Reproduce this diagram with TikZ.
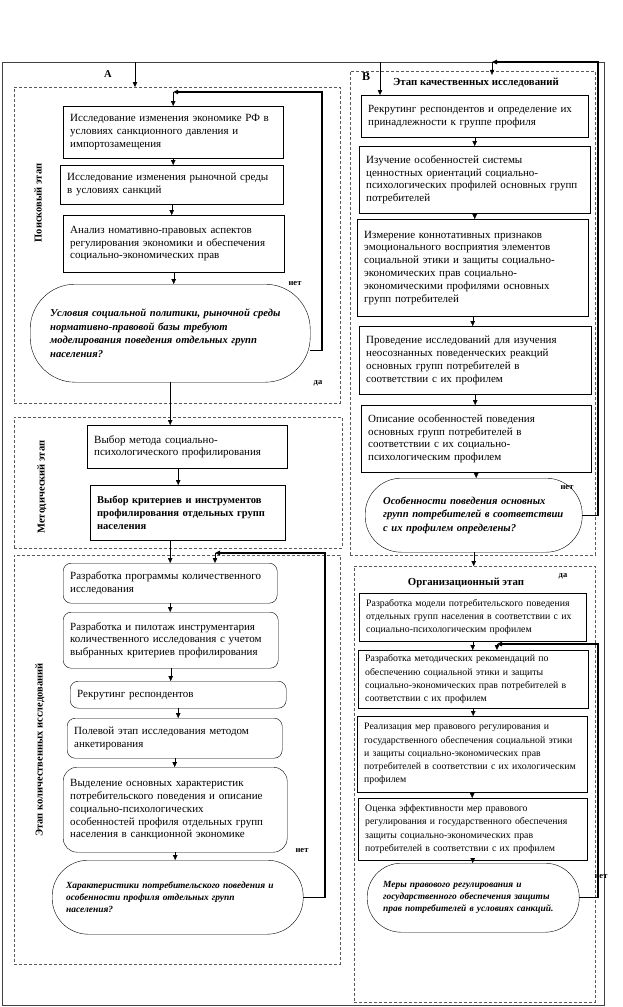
\documentclass[tikz,border=0pt]{standalone}
\usepackage{fontspec}
\setmainfont{Liberation Serif}
\usetikzlibrary{arrows.meta}
\newcommand\boxfont{\fontsize{11}{12.8}\selectfont}
\newcommand\orgfont{\fontsize{9.8}{13.3}\selectfont}
\newcommand\decfont{\bfseries\itshape\fontsize{10.6}{13.6}\selectfont}
\newcommand\decsmall{\bfseries\itshape\fontsize{9.4}{12}\selectfont}
\newcommand\labfont{\bfseries\fontsize{10.5}{12}\selectfont}
\newcommand\ynfont{\bfseries\fontsize{8.5}{10}\selectfont}

\begin{document}
\begin{tikzpicture}[x=1pt, y=-1pt, every node/.style={font=\boxfont},
  box/.style={draw, anchor=north west, align=left, inner xsep=7pt, inner ysep=2pt},
  rbox/.style={box, rounded corners=8pt},
  decision/.style={draw, anchor=north west, align=left, font=\decfont, inner ysep=2pt},
  stage/.style={draw=gray!70!black, dash pattern=on 3pt off 2pt, anchor=north west, inner sep=0pt},
  frame/.style={draw=gray!50!black, line width=0.8pt, anchor=north west, inner sep=0pt},
  arr/.style={-{Triangle[length=5pt, width=4.5pt]}},
  loopline/.style={line width=1.3pt},
  lab/.style={font=\labfont},
  yn/.style={font=\ynfont}]
\useasboundingbox (0,0) rectangle (623,1007);
\node[frame, minimum width=602pt, minimum height=943pt] (frame) at (2,62) {};

% left column
\node[stage, minimum width=326pt, minimum height=316pt] (s1) at (14,87) {};
\node[stage, minimum width=328pt, minimum height=131pt] (s2) at (14,417) {};
\node[stage, minimum width=326pt, minimum height=409pt] (s3) at (14,555) {};
\node[lab] (la) at (108,74) {А};
\node[lab, rotate=90] (l1) at (38,203) {Поисковый этап};
\node[lab, rotate=90] (l2) at (42,487) {Методический этап};
\node[lab, rotate=90] (l3) at (40,750) {Этап количественных исследований};

\node[box, text width=206pt, minimum height=52pt] (b1) at (63,106) {Исследование изменения экономике РФ в\\условиях санкционного давления и\\импортозамещения};
\node[box, text width=209pt, minimum height=39pt] (b2) at (60,165) {Исследование изменения рыночной среды\\в условиях санкций};
\node[box, text width=207pt, minimum height=57pt] (b3) at (63,215) {Анализ номативно-правовых аспектов\\регулирования экономики и обеспечения\\социально-экономических прав};
\node[decision, rounded corners=45pt, inner xsep=20pt, text width=240pt, minimum height=98pt] (d1) at (30,284) {Условия социальной политики, рыночной среды\\нормативно-правовой базы требуют\\моделирования поведения отдельных групп\\населения?};
\node[yn] (no1) at (295,284) {нет};
\node[yn] (yes1) at (318,383) {да};

\node[box, text width=186pt, minimum height=43pt] (m1) at (87,425) {Выбор метода социально-\\психологического профилирования};
\node[box, text width=181pt, minimum height=55pt, font=\fontsize{10.5}{12.8}\selectfont\bfseries] (m2) at (90,485) {Выбор критериев и инструментов\\профилирования отдельных групп\\населения};

\node[rbox, text width=200pt, minimum height=40pt] (q1) at (63,563) {Разработка программы количественного\\исследования};
\node[rbox, text width=201pt, minimum height=56pt] (q2) at (63,612) {Разработка и пилотаж инструментария\\количественного исследования с учетом\\выбранных критериев профилирования};
\node[rbox, text width=202pt, minimum height=27pt] (q3) at (70,681) {Рекрутинг респондентов};
\node[rbox, text width=201pt, minimum height=40pt] (q4) at (67,718) {Полевой этап исследования методом\\анкетирования};
\node[rbox, rounded corners=14pt, text width=210pt, minimum height=85pt] (q5) at (63,767) {Выделение основных характеристик\\потребительского поведения и описание\\социально-психологических\\особенностей профиля отдельных групп\\населения в санкционной экономике};
\node[decision, rounded corners=36pt, font=\decsmall, inner xsep=14pt, text width=223pt, minimum height=74pt] (d2) at (52,860) {Характеристики потребительского поведения и\\особенности профиля отдельных групп\\населения?};
\node[yn] (no2) at (302,851) {нет};

% right column
\node[stage, minimum width=245pt, minimum height=484pt] (s4) at (350,71) {};
\node[stage, minimum width=241pt, minimum height=436pt] (s5) at (354,566) {};
\node[lab, font=\labfont\fontsize{12}{12}\selectfont] (lb) at (366,77) {В};
\node[font=\bfseries\fontsize{10.8}{11}\selectfont] (tB) at (476,83) {Этап качественных исследований};
\node[font=\bfseries\fontsize{10.8}{11}\selectfont] (tO) at (466,583) {Организационный этап};

\node[box, text width=213pt, minimum height=42pt] (r1) at (361,95) {Рекрутинг респондентов и определение их\\принадлежности к группе профиля};
\node[box, text width=217pt, minimum height=67pt] (r2) at (359,146) {Изучение особенностей системы\\ценностных ориентаций социально-\\психологических профилей основных групп\\потребителей};
\node[box, text width=217pt, minimum height=97pt] (r3) at (357,219) {Измерение коннотативных признаков\\эмоционального восприятия элементов\\социальной этики и защиты социально-\\экономических прав социально-\\экономическими профилями основных\\групп потребителей};
\node[box, text width=218pt, minimum height=68pt] (r4) at (359,326) {Проведение исследований для изучения\\неосознанных поведенческих реакций\\основных групп потребителей в\\соответствии с их профилем};
\node[box, text width=216pt, minimum height=67pt] (r5) at (361,405) {Описание особенностей поведения\\основных групп потребителей в\\соответствии с их социально-\\психологическим профилем};
\node[decision, rounded corners=36pt, inner xsep=18pt, text width=181pt, minimum height=74pt] (d3) at (365,478) {Особенности поведения основных\\групп потребителей в соответствии\\с их профилем определены?};
\node[yn] (no3) at (567,488) {нет};
\node[yn] (yes3) at (563,576) {да};

\node[box, font=\orgfont, text width=213pt, minimum height=48pt] (o1) at (359,593) {Разработка модели потребительского поведения\\отдельных групп населения в соответствии с их\\социально-психологическим профилем};
\node[box, font=\orgfont, text width=216pt, minimum height=58pt] (o2) at (358,650) {Разработка методических рекомендаций по\\обеспечению социальной этики и защиты\\социально-экономических прав потребителей в\\соответствии с их профилем};
\node[box, font=\orgfont, text width=216pt, minimum height=76pt] (o3) at (357,716) {Реализация мер правового регулирования и\\государственного обеспечения социальной этики\\и защиты социально-экономических прав\\потребителей в соответствии с их ихологическим\\профилем};
\node[box, font=\orgfont, text width=215pt, minimum height=62pt] (o4) at (358,798) {Оценка эффективности мер правового\\регулирования и государственного обеспечения\\защиты социально-экономических прав\\потребителей в соответствии с их профилем};
\node[decision, rounded corners=34pt, font=\decsmall, inner xsep=16pt, text width=180pt, minimum height=69pt] (d4) at (367,863) {Меры правового регулирования и\\государственного обеспечения защиты\\прав потребителей в условиях санкций.};
\node[yn] (no4) at (601,877) {нет};

% connectors
\coordinate (entryA) at (135,62);
\coordinate (entryB) at (380,62);
\coordinate (loopA) at (322,92);
\coordinate (loopC) at (325,553);
\coordinate (loopC2) at (215,553);
\coordinate (loopB) at (598,62);
\coordinate (loopB2) at (492,62);
\coordinate (loopD) at (598,644);
\coordinate (loopD2) at (497,644);

\draw[arr] (entryA) -- (entryA |- s1.north);
\draw[arr] (b1.south) -- (b1.south |- b2.north);
\draw[arr] (b2.south) -- (b2.south |- b3.north);
\draw[arr] (b3.south) -- (b3.south |- d1.north);
\draw[loopline, arr] ([yshift=-17pt]d1.east) -| (loopA) -- (loopA -| b1.north);
\draw[arr] (loopA -| b1.north) -- (b1.north);
\draw[arr] (d1.south) -- (d1.south |- m1.north);
\draw[arr] ([xshift=-9pt]m1.south) -- ([xshift=-9pt]m1.south |- m2.north);
\draw[arr] (m2.south -| q1.north) -- (q1.north);
\draw[arr] (q1.south) -- (q1.south |- q2.north);
\draw[arr] (q2.south) -- (q2.south |- q3.north);
\draw[arr] (q3.south) -- (q3.south |- q4.north);
\draw[arr] (q4.south) -- (q4.south |- q5.north);
\draw[arr] (q5.south) -- (q5.south |- d2.north);
\draw[loopline, arr] (d2.east) -| (loopC) -- (loopC2);
\draw[arr] (loopC2) -- (loopC2 |- q1.north);

\draw[arr] (entryB) -- (entryB |- r1.north);
\draw[arr] (r1.south) -- (r1.south |- r2.north);
\draw[arr] (r2.south) -- (r2.south |- r3.north);
\draw[arr] (r3.south) -- (r3.south |- r4.north);
\draw[arr] (r4.south) -- (r4.south |- r5.north);
\draw[arr] (r5.south) -- (r5.south |- d3.north);
\draw[loopline, arr] (d3.east) -| (loopB) -- (loopB2);
\draw[arr] (loopB2) -- (loopB2 |- tB.north);
\draw[arr] (d3.south) -- (d3.south |- s5.north);
\draw[arr] (o1.south) -- (o1.south |- o2.north);
\draw[arr] (o2.south) -- (o2.south |- o3.north);
\draw[arr] (o3.south) -- (o3.south |- o4.north);
\draw[arr] (o4.south) -- (o4.south |- d4.north);
\draw[loopline, arr] (d4.east) -| (loopD) -- (loopD2);
\draw[arr] (loopD2) -- (loopD2 |- o2.north);
\end{tikzpicture}
\end{document}
